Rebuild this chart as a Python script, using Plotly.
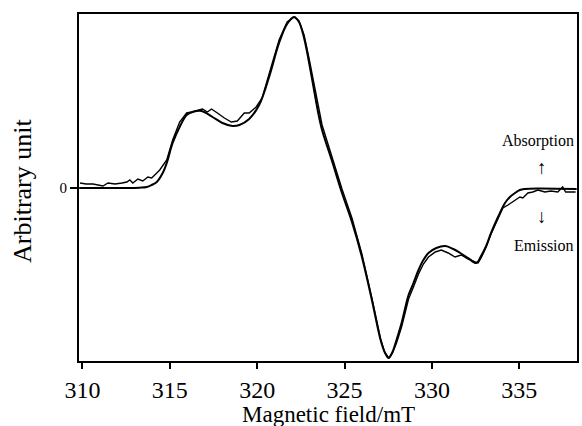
import plotly.graph_objects as go

# Fitted (simulated) spectrum
fit_field = [309.81, 311.00, 312.14, 313.28, 313.68, 313.96, 314.25, 314.59, 314.82, 315.16,
             315.56, 315.96, 316.30, 316.81, 317.44, 318.01, 318.58, 318.98, 319.54, 320.11,
             320.68, 321.25, 321.71, 322.11, 322.39, 322.68, 322.96, 323.25, 323.48, 323.71,
             324.28, 324.85, 325.42, 325.99, 326.56, 327.06, 327.29, 327.52, 327.74, 327.97,
             328.26, 328.48, 328.66, 328.94, 329.23, 329.51, 329.80, 330.25, 330.76, 331.22,
             331.62, 332.07, 332.53, 332.81, 333.10, 333.38, 333.78, 334.18, 334.46, 334.75,
             335.03, 335.32, 336.06, 338.28]
fit_signal = [0, 0, 0, 0.3, 1, 3, 6, 15, 25, 45,
              61, 73, 76, 77, 71, 65, 62, 63, 69, 83,
              111, 145, 164, 171, 166, 150, 126, 98, 76, 58,
              27, -5, -34, -69, -112, -152, -164, -170, -164, -152,
              -135, -119, -107, -95, -82, -72, -65, -60, -58, -61,
              -65, -70, -75, -68, -58, -45, -29, -15, -9, -5,
              -2, -1, -0.5, -1]

# Experimental spectrum
exp_field = [309.86, 310.21, 310.60, 310.89, 311.17, 311.46, 311.86, 312.26, 312.54, 312.71,
             312.88, 313.17, 313.45, 313.74, 313.96, 314.25, 314.42, 314.82, 315.16, 315.56,
             315.96, 316.24, 316.58, 316.87, 317.15, 317.38, 317.72, 318.12, 318.52, 318.86,
             319.26, 319.54, 319.94, 320.28, 320.68, 321.25, 321.71, 322.11, 322.39, 322.68,
             322.96, 323.25, 323.48, 323.71, 324.28, 324.85, 325.42, 325.99, 326.56, 327.06,
             327.29, 327.52, 327.74, 327.97, 328.26, 328.48, 328.66, 328.94, 329.23, 329.51,
             329.80, 330.19, 330.53, 330.93, 331.32, 331.67, 332.07, 332.47, 332.64, 332.81,
             333.10, 333.38, 333.78, 334.06, 334.35, 334.75, 335.03, 335.20, 335.49, 335.77,
             336.06, 336.46, 336.80, 337.20, 337.48, 337.65, 338.22]
exp_signal = [5, 4, 4, 3, 2, 5, 4, 5, 6, 8,
              5, 9, 7, 11, 10, 15, 18, 28, 48, 66,
              75, 76, 78, 79, 76, 79, 75, 70, 66, 67,
              75, 75, 81, 90, 114, 148, 166, 171, 167, 153,
              130, 103, 81, 63, 31, -1, -30, -66, -110, -151,
              -164, -170, -165, -155, -139, -123, -111, -99, -86, -76,
              -69, -64, -62, -65, -69, -67, -71, -74, -75, -70,
              -59, -46, -31, -20, -17, -12, -9, -10, -5, -4,
              -2, -4, -3, -4, 1, -4, -4]

x_ticks = [310, 315, 320, 325, 330, 335]

serif = "Liberation Serif, Times New Roman, serif"

fig = go.Figure()
fig.add_trace(go.Scatter(x=exp_field, y=exp_signal, mode="lines",
                         line=dict(color="black", width=1.4), hoverinfo="skip"))
fig.add_trace(go.Scatter(x=fit_field, y=fit_signal, mode="lines", line_shape="spline",
                         line=dict(color="black", width=2), hoverinfo="skip"))

fig.update_layout(
    width=582, height=426,
    margin=dict(l=79, r=3, t=14, b=65),
    paper_bgcolor="white", plot_bgcolor="white",
    showlegend=False,
    font=dict(family=serif, color="black"),
    xaxis=dict(range=[309.8, 338.3], tickvals=x_ticks, ticks="outside", ticklen=6, tickwidth=1.5,
               tickcolor="black", showline=True, linecolor="black", linewidth=2, mirror=True,
               showgrid=False, zeroline=False, tickfont=dict(size=24, family=serif, color="black")),
    yaxis=dict(range=[-173, 174], tickvals=[0], ticktext=["0"], ticks="outside", ticklen=7,
               tickwidth=1.5, tickcolor="black", showline=True, linecolor="black", linewidth=2,
               mirror=True, showgrid=False, zeroline=False,
               tickfont=dict(size=15, family=serif, color="black")),
    annotations=[
        dict(text="Magnetic field/mT", xref="paper", yref="paper", x=0.501, y=0, yshift=-53,
             xanchor="center", yanchor="middle", showarrow=False, font=dict(size=23, family=serif)),
        dict(text="Arbitrary unit", xref="paper", yref="paper", x=0, y=0.49, xshift=-56,
             textangle=-90, xanchor="center", yanchor="middle", showarrow=False,
             font=dict(size=26, family=serif)),
        dict(text="Absorption", xref="x", yref="y", x=338.25, y=47, xanchor="right",
             yanchor="middle", showarrow=False, font=dict(size=16, family=serif)),
        dict(text="↑", xref="x", yref="y", x=336.3, y=21, xanchor="center",
             yanchor="middle", showarrow=False, font=dict(size=19, family=serif)),
        dict(text="↓", xref="x", yref="y", x=336.3, y=-28, xanchor="center",
             yanchor="middle", showarrow=False, font=dict(size=19, family=serif)),
        dict(text="Emission", xref="x", yref="y", x=338.25, y=-57, xanchor="right",
             yanchor="middle", showarrow=False, font=dict(size=16, family=serif)),
    ],
)

fig.write_html("out.html", config={"displayModeBar": False},
               post_script="document.body.style.margin='0';document.body.style.overflow='hidden';")
